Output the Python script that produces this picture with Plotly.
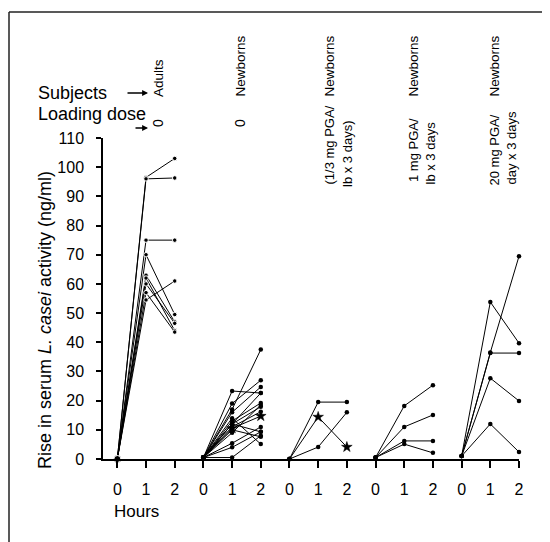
import plotly.graph_objects as go

# ---- data (rise in serum L. casei activity, ng/ml) at hours 0, 1, 2 ----
hours = [0, 1, 2]
group_names = ["Adults", "Newborns", "Newborns", "Newborns", "Newborns"]
group_doses = ["0", "0", "(1/3 mg PGA/|lb x 3 days)", "1 mg PGA/|lb x 3 days", "20 mg PGA/|day x 3 days"]

adults = [
    [0, 96.5, 103],
    [0, 96.0, 96.3],
    [0, 75, 75],
    [0, 70, 49.5],
    [0, 63, 47],
    [0, 62, 44],
    [0, 60, 46.5],
    [0, 57, 43.5],
    [0, 54.5, 61],
]
newborns_0 = [
    [0.5, 17, 37.5],
    [0.5, 23.3, 22.6],
    [0.5, 19, 27],
    [0.5, 16, 24.7],
    [0.5, 12, 22.6],
    [0.5, 13, 19.2],
    [0.5, 12, 17.9],
    [0.5, 11, 16.2],
    [0.5, 12, 9.3],
    [0.5, 10, 7.6],
    [0.5, 14, 5.1],
    [0.5, 5.4, 11],
    [0.5, 4, 9.3],
    [0.5, 0.5, 8],
    [0.5, 9, 18.5],
]
newborns_0_star = [0.5, 10.5, 14.7]
pga_third = [
    [0, 19.5, 19.5],
    [0, 4.1, 16],
]
pga_third_star = [0, 14.4, 4.1]
pga_1mg = [
    [0.5, 18.2, 25.3],
    [0.5, 11, 15.1],
    [0.5, 6.2, 6.2],
    [0.5, 5.1, 2.1],
]
pga_20mg = [
    [1, 36.5, 69.5],
    [1, 36.3, 36.3],
    [1, 53.8, 39.7],
    [1, 27.7, 19.9],
    [1, 12, 2.4],
]
groups = [adults, newborns_0, pga_third, pga_1mg, pga_20mg]
star_series = {1: newborns_0_star, 2: pga_third_star}

y_ticks = list(range(0, 111, 10))
x_tick_labels = ["0", "1", "2"]

# ---- layout geometry (screen pixels; page body adds 8px offset) ----
W, H = 550, 542
OFF = 8
PLOT_L, PLOT_R, PLOT_T, PLOT_B = 103, 519, 138, 459   # screen px of plot area
L = PLOT_L - OFF
T = PLOT_T - OFF
R = W - (PLOT_R - OFF)
B = H - (PLOT_B - OFF)

def px_x(px):
    return (px - PLOT_L) / (PLOT_R - PLOT_L)

def px_y(py):
    return (PLOT_B - py) / (PLOT_B - PLOT_T)

FONT = "Liberation Sans, Arial, sans-serif"
fig = go.Figure()

for g, subjects in enumerate(groups):
    xs = [3 * g + h for h in hours]
    for vals in subjects:
        fig.add_trace(go.Scatter(
            x=xs, y=vals, mode="lines+markers",
            line=dict(color="black", width=1),
            marker=dict(color="black", opacity=1,
                        size=[7, 4.5, 4.5] if g == 0 else 4.5),
            cliponaxis=False, showlegend=False, hoverinfo="skip"))
    if g in star_series:
        fig.add_trace(go.Scatter(
            x=xs, y=star_series[g], mode="lines+markers",
            line=dict(color="black", width=1),
            marker=dict(color="black", opacity=1, size=[4.5, 8, 8],
                        symbol=["circle", "star", "star"],
                        line=dict(color="black", width=0.5)),
            cliponaxis=False, showlegend=False, hoverinfo="skip"))

fig.update_layout(
    width=W, height=H,
    margin=dict(l=L, r=R, t=T, b=B, pad=0),
    paper_bgcolor="white", plot_bgcolor="white",
    font=dict(family=FONT, color="black"),
    xaxis=dict(
        range=[-0.5, 14.0], tickmode="array",
        tickvals=list(range(15)), ticktext=x_tick_labels * 5,
        showline=True, linecolor="black", linewidth=1.5,
        ticks="outside", ticklen=7, tickwidth=1.5, tickcolor="black",
        ticklabelstandoff=8,
        tickfont=dict(size=16, family=FONT), showgrid=False, zeroline=False),
    yaxis=dict(
        range=[0, 110], tickmode="array", tickvals=y_ticks,
        showline=True, linecolor="black", linewidth=1.5,
        ticks="outside", ticklen=5, tickwidth=1.5, tickcolor="black",
        ticklabelstandoff=9,
        tickfont=dict(size=16, family=FONT), showgrid=False, zeroline=False),
)

ann = []
# y-axis title
ann.append(dict(x=px_x(45), y=px_y(320), xref="paper", yref="paper",
                text="Rise in serum <i>L. casei</i> activity (ng/ml)", textangle=-90,
                showarrow=False, font=dict(size=18, family=FONT),
                xanchor="center", yanchor="middle"))
# Hours
ann.append(dict(x=px_x(112), y=px_y(512), xref="paper", yref="paper",
                text="Hours", showarrow=False, font=dict(size=17, family=FONT),
                xanchor="left", yanchor="middle"))
# Subjects / Loading dose
ann.append(dict(x=px_x(36), y=px_y(93), xref="paper", yref="paper",
                text="Subjects", showarrow=False, font=dict(size=18, family=FONT),
                xanchor="left", yanchor="middle"))
ann.append(dict(x=px_x(36), y=px_y(114), xref="paper", yref="paper",
                text="Loading dose", showarrow=False, font=dict(size=18, family=FONT),
                xanchor="left", yanchor="middle"))
for (xt, xh, yy) in [(126, 148, 93), (134, 148, 128)]:
    ann.append(dict(x=px_x(xh), y=px_y(yy), xref="paper", yref="paper",
                    ax=xt - xh, ay=0, axref="pixel", ayref="pixel",
                    text="", showarrow=True, arrowhead=2, arrowsize=0.9,
                    arrowwidth=1.3, arrowcolor="black"))

# column headers
name_x = [158, 240, 329, 413, 494]
dose_line2_x = [None, None, 347, 430, 511]
dose_tops = [(None, None), (None, None), (104, 119), (116, 120), (113, 110)]
for g in range(5):
    ann.append(dict(x=px_x(name_x[g]), y=px_y(99), xref="paper", yref="paper",
                    text=group_names[g], textangle=-90, showarrow=False,
                    font=dict(size=13.5, family=FONT),
                    xanchor="center", yanchor="bottom"))
    lines = group_doses[g].split("|")
    if len(lines) == 1:
        ann.append(dict(x=px_x(name_x[g]), y=px_y(123), xref="paper", yref="paper",
                        text=lines[0], textangle=-90, showarrow=False,
                        font=dict(size=14, family=FONT),
                        xanchor="center", yanchor="middle"))
    else:
        xs_l = [name_x[g], dose_line2_x[g]]
        for k, txt in enumerate(lines):
            ann.append(dict(x=px_x(xs_l[k]), y=px_y(dose_tops[g][k]),
                            xref="paper", yref="paper",
                            text=txt, textangle=-90, showarrow=False,
                            font=dict(size=13, family=FONT),
                            xanchor="center", yanchor="top"))
fig.update_layout(annotations=ann)

# page frame
frame = [((9, 12), (9, 542)), ((9, 12), (547, 12)), ((547, 12), (547, 203))]
fig.update_layout(shapes=[
    dict(type="line", xref="paper", yref="paper",
         x0=px_x(a[0]), y0=px_y(a[1]), x1=px_x(b[0]), y1=px_y(b[1]),
         line=dict(color="#222", width=1.5))
    for a, b in frame])

fig.write_html("out.html")
